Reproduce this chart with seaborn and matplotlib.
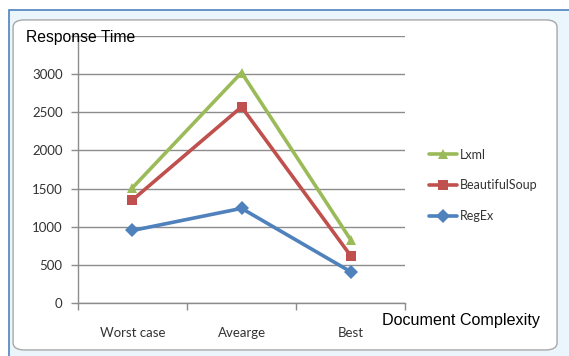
import matplotlib.pyplot as plt
import pandas as pd
import seaborn as sns
from matplotlib.patches import FancyBboxPatch, Rectangle

categories = ['Worst case', 'Avearge', 'Best']
lxml = [1510, 3020, 830]
beautifulsoup = [1350, 2570, 620]
regex = [950, 1240, 410]
series_names = ['Lxml', 'BeautifulSoup', 'RegEx']
y_ticks = [0, 500, 1000, 1500, 2000, 2500, 3000, 3500]

df = pd.DataFrame({
    'complexity': categories * 3,
    'time': lxml + beautifulsoup + regex,
    'parser': [n for n in series_names for _ in categories],
})

sns.set_theme(style='white')
plt.rcParams['font.family'] = ['Lato', 'DejaVu Sans']

fig = plt.figure(figsize=(5.69, 3.56), dpi=100)
fig.patch.set_facecolor('white')

# excel-ish frame around the chart
fig.patches.append(Rectangle((0.016, -0.01), 0.99, 0.982, transform=fig.transFigure,
                             facecolor='#eaf6fb', edgecolor='#4f81bd', lw=1.2, zorder=-3))
fig.patches.append(FancyBboxPatch((0.023, 0.017), 0.956, 0.927, boxstyle='round,pad=0,rounding_size=0.02',
                                  transform=fig.transFigure, facecolor='white',
                                  edgecolor='#a8a8a8', lw=1.0, zorder=-2))

ax = fig.add_axes([0.137, 0.149, 0.575, 0.75])
ax.set_facecolor('none')

palette = {'Lxml': '#9bbb59', 'BeautifulSoup': '#c0504d', 'RegEx': '#4f81bd'}
markers = {'Lxml': '^', 'BeautifulSoup': 's', 'RegEx': 'D'}
sns.lineplot(data=df, x='complexity', y='time', hue='parser', style='parser',
             hue_order=series_names, style_order=series_names,
             palette=palette, markers=markers, dashes=False, lw=2.6,
             markersize=7.5, markeredgewidth=0, ax=ax, sort=False)

ax.set_xlim(-0.5, 2.5)
ax.set_ylim(0, 3500)
ax.set_yticks(y_ticks)
ax.set_yticklabels([str(v) if v < 3500 else '' for v in y_ticks])
ax.yaxis.grid(True, color='#8c8c8c', lw=1.0)
ax.set_axisbelow(True)
for s in ['top', 'right']:
    ax.spines[s].set_visible(False)
for s in ['left', 'bottom']:
    ax.spines[s].set_color('#8c8c8c')
    ax.spines[s].set_linewidth(1.0)

ax.set_xticks([0, 1, 2])
ax.set_xticks([-0.5, 0.5, 1.5, 2.5], minor=True)
ax.tick_params(axis='x', which='major', length=0, pad=17, labelsize=9.5, labelcolor='#333333')
ax.tick_params(axis='x', which='minor', length=5, width=1, color='#8c8c8c', direction='out', bottom=True)
ax.tick_params(axis='y', length=5, width=1, color='#8c8c8c', direction='out', left=True,
               labelsize=9.5, labelcolor='#333333', pad=6)
ax.set_xlabel('')
ax.set_ylabel('')

leg = ax.legend(loc='center left', bbox_to_anchor=(1.04, 0.44), frameon=False,
                fontsize=9, handlelength=2.2, labelspacing=1.5, handletextpad=0.2)
for t in leg.get_texts():
    t.set_color('#333333')

fig.text(0.045, 0.895, 'Response Time', fontsize=11.3, family=['Liberation Sans Narrow', 'Liberation Sans'],
         ha='left', va='center', color='black')
fig.text(0.672, 0.10, 'Document Complexity', fontsize=11.6, family=['Liberation Sans Narrow', 'Liberation Sans'],
         ha='left', va='center', color='black')

fig.savefig('out.png', dpi=100)
